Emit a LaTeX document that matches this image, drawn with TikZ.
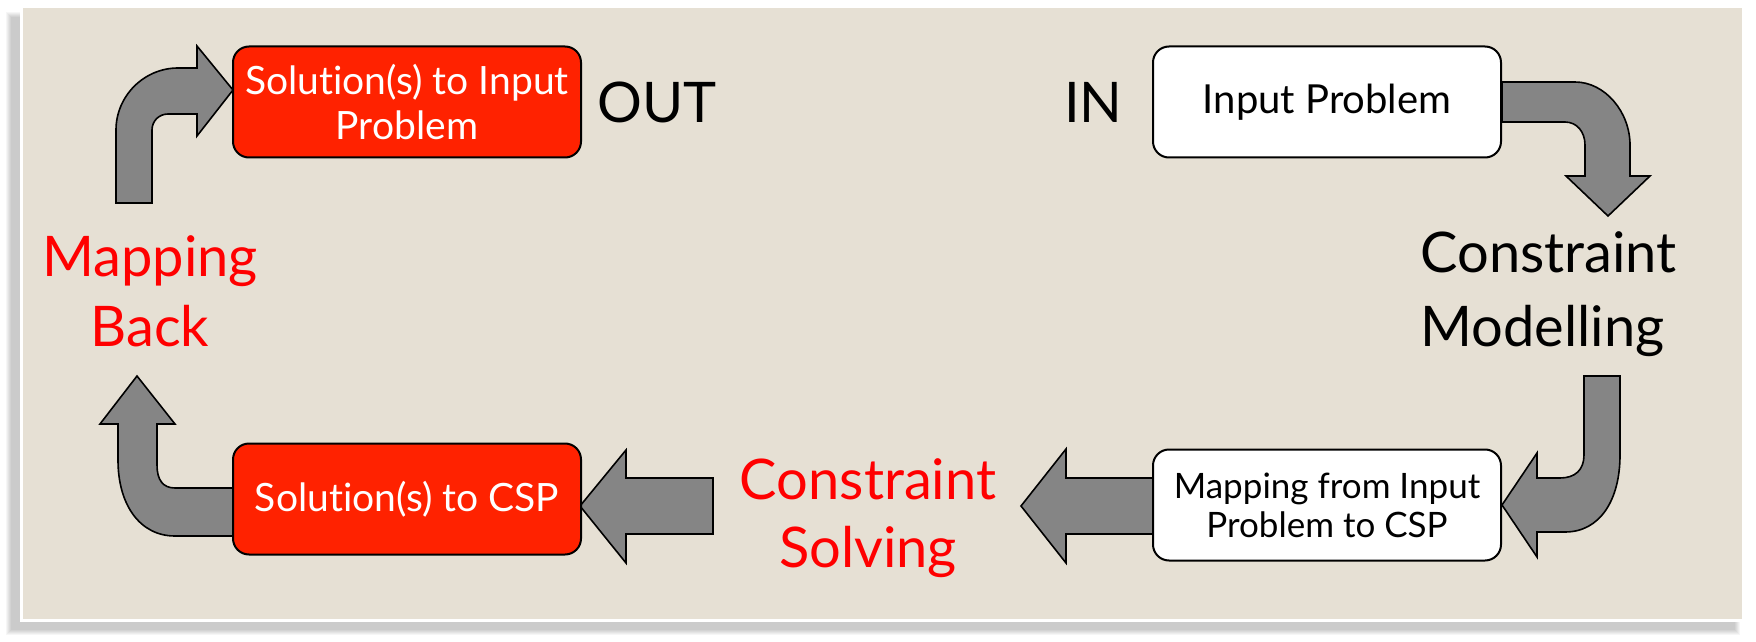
\documentclass[tikz,border=0pt]{standalone}
\usepackage{fontspec}
\setmainfont{Lato}[Ligatures=NoCommon]
\usetikzlibrary{positioning}
\definecolor{slidebg}{RGB}{230,224,212}
\definecolor{boxred}{RGB}{255,34,0}
\definecolor{textred}{RGB}{255,0,0}

\begin{document}
\begin{tikzpicture}[x=0.5pt,y=-0.5pt,
    stepbox/.style={draw=black,line width=1pt,rounded corners=8pt,minimum width=174pt,minimum height=55.5pt,align=center,inner sep=2pt},
    bigtext/.style={inner sep=0pt,font=\fontsize{28}{34}\selectfont},
    blockarrow/.style={draw=black,line width=0.8pt,fill=black!48,line join=miter}]
        \useasboundingbox (0,0) rectangle (1756,642);
        \fill[white] (0,0) rectangle (1756,642);
        % shadow and slide
        \foreach \s in {0,1,...,5}
            \fill[black,opacity=0.035] (11-\s,17-\s) rectangle (1735+\s,630+\s);
        \draw[white,line width=1.5pt,fill=slidebg] (21,7) rectangle (1743,620);

        % block arrows
        \draw[blockarrow] (116,203) -- (116,130) .. controls (116,96) and (144,68) .. (178,68) -- (197,68) -- (197,46) -- (233,90) -- (197,136) -- (197,114) -- (168,114) .. controls (159,114) and (152,121) .. (152,130) -- (152,203) -- cycle;
        \draw[blockarrow] (1502,82) -- (1575,82) .. controls (1605,82) and (1630,112) .. (1630,145) -- (1630,176) -- (1650,176) -- (1608,216) -- (1566,176) -- (1585,176) -- (1585,145) .. controls (1585,132) and (1577,122) .. (1565,122) -- (1502,122) -- cycle;
        \draw[blockarrow] (1584,376) -- (1620,376) -- (1620,455) .. controls (1620,500) and (1600,532) .. (1565,532) -- (1537,532) -- (1537,557) -- (1502,505) -- (1537,453) -- (1537,478) -- (1560,478) .. controls (1575,478) and (1584,470) .. (1584,455) -- cycle;
        \draw[blockarrow] (233,536) -- (175,536) .. controls (140,536) and (118,505) .. (118,460) -- (118,424) -- (100,424) -- (137,376) -- (175,424) -- (157,424) -- (157,465) .. controls (157,480) and (163,488) .. (175,488) -- (233,488) -- cycle;
        \draw[blockarrow] (580,506) -- (626,450) -- (626,478) -- (713,478) -- (713,534) -- (626,534) -- (626,563) -- cycle;
        \draw[blockarrow] (1021,506) -- (1066,449) -- (1066,478) -- (1153,478) -- (1153,534) -- (1066,534) -- (1066,563) -- cycle;

        % boxes
        \node[stepbox,fill=boxred,text=white,font=\fontsize{19.5}{22.5}\selectfont] (outsol) at (407,102) {Solution(s) to Input\\Problem};
        \node[stepbox,fill=white,font=\fontsize{20}{22.5}\selectfont] (inprob) at (1327,102) {Input Problem};
        \node[stepbox,fill=white,font=\fontsize{17.5}{19.5}\selectfont] (mapcsp) at (1327,505) {Mapping from Input\\Problem to CSP};
        \node[stepbox,fill=boxred,text=white,font=\fontsize{19.5}{22.5}\selectfont] (cspsol) at (407,499) {Solution(s) to CSP};

        % labels
        \node[bigtext,right=7.5pt of outsol] (out) {OUT};
        \node[bigtext,left=14.5pt of inprob] (in) {IN};
        \node[bigtext,font=\fontsize{28}{37}\selectfont,align=left,anchor=west] (model) at (1420,294) {Constraint\\Modelling};
        \node[bigtext,font=\fontsize{28}{34}\selectfont,text=textred,align=center] (solve) at (868,518) {Constraint\\Solving};
        \node[bigtext,font=\fontsize{28}{35}\selectfont,text=textred,align=center] (back) at (150,291) {Mapping\\Back};
    \end{tikzpicture}
\end{document}
